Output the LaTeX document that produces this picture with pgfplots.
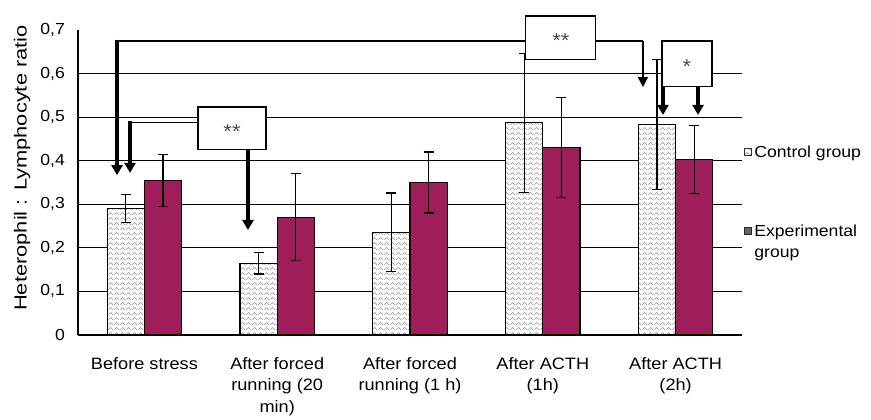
\documentclass[border=0pt]{standalone}
\usepackage{pgfplots}
\pgfplotsset{compat=1.18}
\usepackage{pgfplotstable}
\usepackage{fontspec}
\setmainfont{Liberation Sans}[FakeStretch=1.1]
\newfontfamily\ylabfont{Liberation Sans}[FakeStretch=1.25]
\usetikzlibrary{patterns,arrows.meta}
\definecolor{expcol}{RGB}{158,30,90}
\pgfdeclarepatternformonly{zigzag}{\pgfpointorigin}{\pgfpoint{6bp}{5bp}}{\pgfpoint{6bp}{5bp}}{%
  \pgfsetlinewidth{0.8bp}%
  \pgfpathmoveto{\pgfpoint{0bp}{0bp}}\pgfpathlineto{\pgfpoint{3bp}{3bp}}\pgfpathlineto{\pgfpoint{6bp}{0bp}}%
  \pgfusepath{stroke}}
\pgfplotstableread{
x c ce e ee
0 0.290 0.032 0.355 0.060
1 0.165 0.025 0.270 0.100
2 0.236 0.090 0.350 0.070
3 0.487 0.160 0.430 0.115
4 0.483 0.150 0.402 0.078
}\datatable
\begin{document}
\begin{tikzpicture}
\useasboundingbox (-78bp,-85bp) rectangle (793bp,335bp);
\begin{axis}[
  at={(0,0)}, anchor=south west,
  scale only axis, width=664bp, height=305bp,
  xmin=-0.5, xmax=4.5, ymin=0, ymax=0.7,
  axis lines=left, axis line style={-, line width=1.2bp, black},
  clip=false,
  ybar=0pt, bar width=0.28,
  xtick={0,1,2,3,4},
  xticklabels={Before stress, {After forced\\running (20\\min)}, {After forced\\running (1 h)}, {After ACTH\\(1h)}, {After ACTH\\(2h)}},
  xticklabel style={align=center, inner sep=0pt, anchor=north, yshift=-22bp, font=\fontsize{16.5bp}{21.5bp}\selectfont},
  ytick={0,0.1,0.2,0.3,0.4,0.5,0.6},
  extra y ticks={0.7}, extra y tick style={grid=none},
  ymajorgrids, grid style={black, line width=1.2bp},
  major tick length=0pt,
  /pgf/number format/use comma, /pgf/number format/assume math mode=true,
  yticklabel style={inner sep=0pt, anchor=east, xshift=-13bp, font=\fontsize{16bp}{18bp}\selectfont},
  ylabel={\ylabfont Heterophil : Lymphocyte ratio},
  every axis y label/.style={at={(-56bp,167bp)}, rotate=90, anchor=center, font=\fontsize{17.5bp}{19bp}\selectfont},
  legend style={at={(1.003,0.628)}, anchor=north west, draw=none, fill=none, inner sep=0pt,
    row sep=62bp, cells={anchor=west, align=left}, font=\fontsize{16bp}{21bp}\selectfont,
    /tikz/every even column/.style={column sep=4bp}},
]
\addplot[draw=black, line width=1.2bp, fill=white, postaction={pattern=zigzag, pattern color=gray!70}, bar shift=-0.14,
  legend image code/.code={\draw[draw=black!80, fill=white, line width=1.2bp] (0bp,-3.5bp) rectangle (7bp,3.5bp);},
  error bars/.cd, y dir=both, y explicit, error bar style={line width=1.1bp, black}, error mark options={rotate=90, mark size=5bp, line width=1.1bp, black}]
  table[x=x, y=c, y error=ce] {\datatable};
\addlegendentry{Control group}
\addplot[draw=black, line width=1.2bp, fill=expcol, bar shift=0.14,
  legend image code/.code={\draw[draw=black!85, fill=black!60, line width=1.2bp] (0bp,7bp) rectangle (7bp,14bp);},
  error bars/.cd, y dir=both, y explicit, error bar style={line width=1.1bp, black}, error mark options={rotate=90, mark size=5bp, line width=1.1bp, black}]
  table[x=x, y=e, y error=ee] {\datatable};
\addlegendentry{Experimental\\group}
% annotations
\draw[line width=1.3bp] (axis cs:-0.206,0.675) -- (axis cs:3.754,0.675);
\draw[line width=3.5bp, -{Triangle[width=11bp,length=10bp]}] (axis cs:-0.206,0.678) -- (axis cs:-0.206,0.367);
\draw[line width=1.5bp, -{Triangle[width=10bp,length=10bp]}] (axis cs:3.754,0.675) -- (axis cs:3.754,0.569);
\draw[line width=1.3bp, fill=white] (axis cs:2.872,0.633) rectangle (axis cs:3.399,0.732);
\node[font=\fontsize{20bp}{20bp}\selectfont, text=black!70] at (axis cs:3.136,0.675) {**};
\draw[line width=1.3bp] (axis cs:-0.108,0.487) -- (axis cs:0.404,0.487);
\draw[line width=3.5bp, -{Triangle[width=11bp,length=10bp]}] (axis cs:-0.108,0.490) -- (axis cs:-0.108,0.372);
\draw[line width=1.3bp, fill=white] (axis cs:0.404,0.425) rectangle (axis cs:0.916,0.523);
\node[font=\fontsize{20bp}{20bp}\selectfont, text=black!70] at (axis cs:0.66,0.467) {**};
\draw[line width=3.5bp, -{Triangle[width=11bp,length=10bp]}] (axis cs:0.78,0.425) -- (axis cs:0.78,0.241);
\draw[line width=1.3bp, fill=white] (axis cs:3.898,0.571) rectangle (axis cs:4.274,0.675);
\node[font=\fontsize{20bp}{20bp}\selectfont, text=black!70] at (axis cs:4.086,0.617) {*};
\draw[line width=3.5bp, -{Triangle[width=11bp,length=10bp]}] (axis cs:3.905,0.571) -- (axis cs:3.905,0.505);
\draw[line width=3.5bp, -{Triangle[width=11bp,length=10bp]}] (axis cs:4.169,0.571) -- (axis cs:4.169,0.505);
\end{axis}
\end{tikzpicture}
\end{document}
